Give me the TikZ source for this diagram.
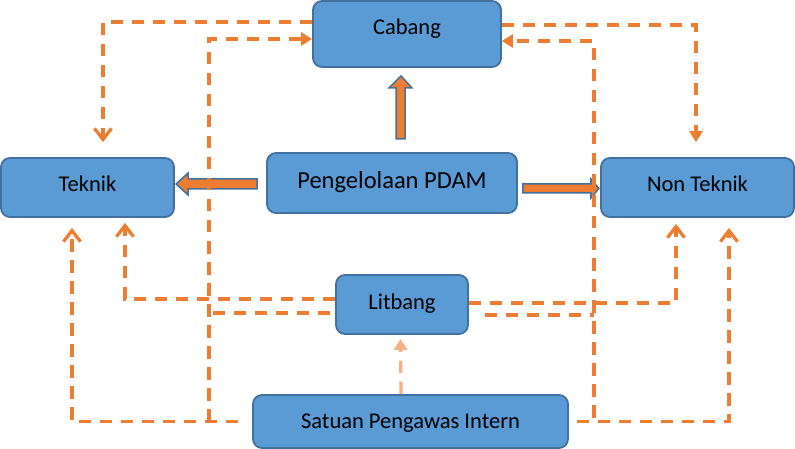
\documentclass[tikz,border=0pt]{standalone}
\usepackage{fontspec}
\setmainfont{Carlito}
\usetikzlibrary{arrows.meta,calc}
\definecolor{boxfill}{HTML}{5B9BD5}
\definecolor{boxline}{HTML}{41719C}
\definecolor{orng}{HTML}{ED7D31}
\definecolor{lorng}{HTML}{F4B183}
\begin{document}
\begin{tikzpicture}[x=1pt,y=-1pt,
  box/.style={draw=boxline, fill=boxfill, line width=1.8pt, rounded corners=9pt,
    font=\fontsize{22.5}{27}\selectfont, text height=16pt, text depth=8pt, inner sep=0pt},
  blockarr/.style={fill=orng, draw=boxline, line width=1.5pt, line join=miter},
  dline/.style={draw=orng, line width=3.3pt, dash pattern=on 12.5pt off 8.5pt},
  openhead/.style={-{Straight Barb[length=11pt,width=17pt]}},
  filledhead/.style={-{Triangle[length=11pt,width=13pt]}}
]
\useasboundingbox (0,0) rectangle (795,449);

% boxes
\node[box, minimum width=173pt, minimum height=59pt] (teknik) at (87.5,187.5) {Teknik};
\node[box, minimum width=188pt, minimum height=66pt, text depth=15pt] (cabang) at (407,34) {Cabang};
\node[box, minimum width=250pt, minimum height=60pt, font=\fontsize{24.5}{29}\selectfont,
      text height=17pt, text depth=6pt] (pdam) at (392,183) {Pengelolaan PDAM};
\node[box, minimum width=193pt, minimum height=59pt, text depth=7pt] (nonteknik) at (697.5,187.5) {Non Teknik};
\node[box, minimum width=132pt, minimum height=59pt, text depth=6pt] (litbang) at (402,304.5) {Litbang};
\node[box, minimum width=315pt, minimum height=53pt, text depth=2pt] (satuan) at (410.5,421.5) {Satuan Pengawas Intern};

% block arrows
\draw[blockarr] ([shift={(-9,-4)}]pdam.west) -- ++(-69,0) -- ++(0,-6) -- ++(-12,11)
  -- ++(12,11) -- ++(0,-6) -- ++(69,0) -- cycle;
\draw[blockarr] ([shift={(-11,71)}]cabang.south) -- ++(0,-51) -- ++(-7,0) -- ++(12,-12)
  -- ++(11,12) -- ++(-7,0) -- ++(0,51) -- cycle;
\draw[blockarr] ([shift={(5,1)}]pdam.east) -- ++(68,0) -- ++(0,-5) -- ++(8,9.5)
  -- ++(-8,9.5) -- ++(0,-5) -- ++(-68,0) -- cycle;

% dashed connectors
\draw[dline, openhead] ([yshift=12pt]cabang.west) -| ([xshift=15.5pt,yshift=15pt]teknik.north);
\draw[dline, filledhead] ([yshift=9pt]cabang.east) -| ([xshift=-1.5pt,yshift=15pt]nonteknik.north);
\draw[dline, openhead] ([xshift=-14pt]satuan.west) -| ([xshift=-15.5pt,yshift=-10pt]teknik.south);
\draw[dline, filledhead] ([xshift=-43pt]satuan.west) |- ([yshift=-5pt]cabang.west);
\draw[dline, openhead] ([yshift=5.5pt]litbang.west) -| ([xshift=37.5pt,yshift=-5pt]teknik.south);
\draw[dline] ([shift={(-5,8.5)}]litbang.west) -- ++(-121,0);
\draw[dline, openhead] ([yshift=1.5pt]litbang.east) -| ([xshift=-21.5pt,yshift=-6pt]nonteknik.south);
\draw[dline] ([shift={(16,10.5)}]litbang.east) -- ++(109,0);
\draw[dline, filledhead] ([xshift=8pt]satuan.east) -- ++(17,0) |- ([yshift=-7pt]cabang.east);
\draw[dline, openhead] ([xshift=8pt]satuan.east) -| ([xshift=31.5pt,yshift=-10pt]nonteknik.south);
\draw[dline, draw=lorng, filledhead] ([xshift=-9.5pt]satuan.north) -- ([xshift=-1.5pt,yshift=-4pt]litbang.south);
\end{tikzpicture}
\end{document}
